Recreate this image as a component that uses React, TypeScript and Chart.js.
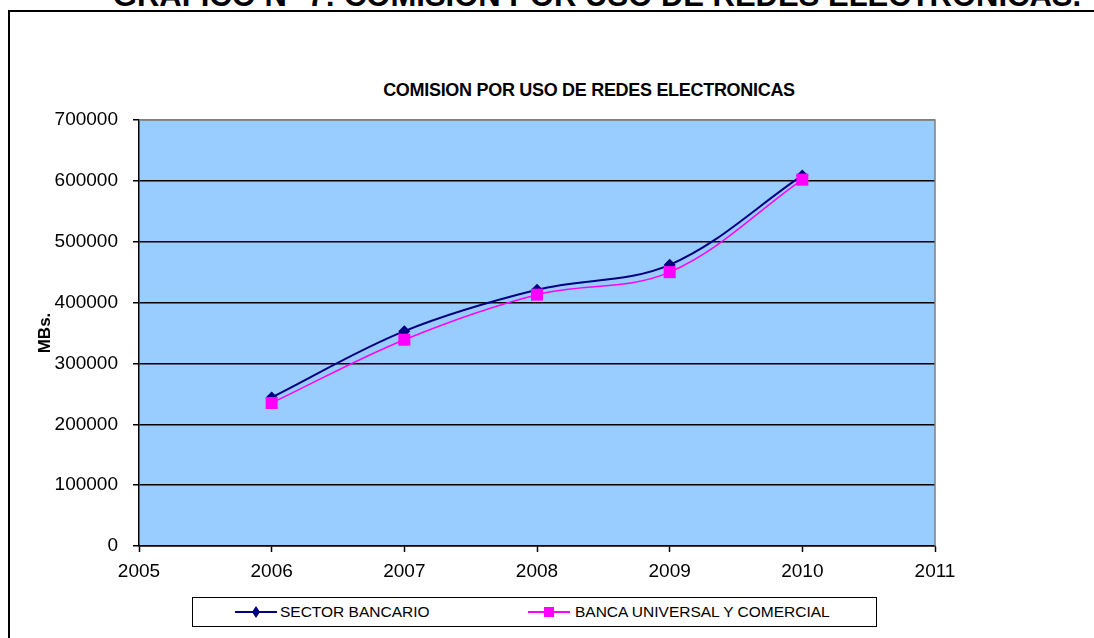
import React, { useEffect, useRef } from 'react';
import { Chart, registerables } from 'chart.js';

Chart.register(...registerables);

const years = [2006, 2007, 2008, 2009, 2010];
const sectorBancario = [244000, 353000, 421000, 462000, 609000];
const bancaUniversal = [235000, 339000, 413000, 450000, 602000];
const seriesNames = ['SECTOR BANCARIO', 'BANCA UNIVERSAL Y COMERCIAL'];
const xMin = 2005;
const xMax = 2011;
const yMin = 0;
const yMax = 700000;
const yStep = 100000;
const pageTitle = 'GRAFICO N° 7: COMISION POR USO DE REDES ELECTRONICAS.';
const chartTitle = 'COMISION POR USO DE REDES ELECTRONICAS';
const yAxisTitle = 'MBs.';

const NAVY = '#000080';
const MAGENTA = '#FF00FF';
const FONT = "'Liberation Sans', Arial, sans-serif";

const plotBg = {
  id: 'plotBg',
  beforeDraw(chart: any) {
    const { ctx, chartArea: a } = chart;
    ctx.save();
    ctx.fillStyle = '#99CCFF';
    ctx.fillRect(a.left, a.top, a.right - a.left, a.bottom - a.top);
    ctx.restore();
  },
  beforeDatasetsDraw(chart: any) {
    const { ctx, chartArea: a } = chart;
    ctx.save();
    ctx.strokeStyle = '#808080';
    ctx.lineWidth = 1.5;
    ctx.beginPath();
    ctx.moveTo(a.left, a.top);
    ctx.lineTo(a.right, a.top);
    ctx.lineTo(a.right, a.bottom);
    ctx.stroke();
    ctx.restore();
  },
};

function LegendIcon({ color, shape }: { color: string; shape: 'diamond' | 'square' }) {
  return (
    <svg width="42" height="14" style={{ display: 'block' }}>
      <line x1="0" y1="7" x2="42" y2="7" stroke={color} strokeWidth="2" />
      {shape === 'diamond' ? (
        <polygon points="21,1 25,7 21,13 17,7" fill={color} />
      ) : (
        <rect x="16" y="2" width="10" height="10" fill={color} />
      )}
    </svg>
  );
}

export default function App() {
  const canvasRef = useRef<HTMLCanvasElement | null>(null);

  useEffect(() => {
    if (!canvasRef.current) return;
    const tickFont = { family: FONT, size: 19 };
    const chart = new Chart(canvasRef.current, {
      type: 'line',
      data: {
        datasets: [
          {
            label: seriesNames[0],
            data: years.map((x, i) => ({ x, y: sectorBancario[i] })),
            borderColor: NAVY,
            backgroundColor: NAVY,
            borderWidth: 2,
            pointStyle: 'rectRot',
            pointRadius: 6,
            pointBorderWidth: 0,
            tension: 0.35,
            fill: false,
            order: 1,
          },
          {
            label: seriesNames[1],
            data: years.map((x, i) => ({ x, y: bancaUniversal[i] })),
            borderColor: MAGENTA,
            backgroundColor: MAGENTA,
            borderWidth: 1.5,
            pointStyle: 'rect',
            pointRadius: 8.5,
            pointBorderWidth: 0,
            tension: 0.35,
            fill: false,
            order: 0,
          },
        ],
      },
      options: {
        responsive: false,
        animation: false,
        devicePixelRatio: 1,
        layout: { padding: { left: 0, top: 82, right: 77, bottom: 0 } },
        plugins: {
          legend: { display: false },
          title: { display: false },
          tooltip: { enabled: false },
        },
        scales: {
          x: {
            type: 'linear',
            min: xMin,
            max: xMax,
            ticks: {
              stepSize: 1,
              callback: (v: any) => String(v),
              color: '#000',
              font: tickFont,
              padding: 8,
              maxRotation: 0,
            },
            grid: {
              drawOnChartArea: false,
              drawTicks: true,
              tickLength: 6,
              tickColor: '#000',
              tickWidth: 1.5,
            },
            border: { color: '#000', width: 1.5 },
            afterFit: (s: any) => {
              s.height = 52;
            },
          },
          y: {
            type: 'linear',
            min: yMin,
            max: yMax,
            ticks: {
              stepSize: yStep,
              callback: (v: any) => String(v),
              color: '#000',
              font: tickFont,
              padding: 15,
            },
            grid: {
              color: (c: any) => (c.tick && c.tick.value === yMax ? '#808080' : '#000'),
              lineWidth: 1.5,
              tickLength: 6,
              tickColor: '#000',
              tickWidth: 1.5,
            },
            border: { color: '#000', width: 1.5 },
            title: {
              display: true,
              text: yAxisTitle,
              color: '#000',
              font: { family: FONT, size: 17, weight: 'bold' },
              padding: { top: 23, bottom: 0 },
            },
            afterFit: (s: any) => {
              s.width = 127;
            },
          },
        },
      } as any,
      plugins: [plotBg],
    });
    return () => chart.destroy();
  }, []);

  return (
    <div
      style={{
        position: 'fixed',
        left: 0,
        top: 0,
        width: 1094,
        height: 638,
        overflow: 'hidden',
        background: '#fff',
        fontFamily: FONT,
        color: '#000',
      }}
    >
      <div
        style={{
          position: 'absolute',
          top: -20,
          left: 597,
          transform: 'translateX(-50%)',
          whiteSpace: 'nowrap',
          fontSize: 31,
          fontWeight: 'bold',
          lineHeight: 1,
        }}
      >
        {pageTitle}
      </div>
      <div
        style={{
          position: 'absolute',
          left: 8,
          top: 10,
          width: 1200,
          height: 700,
          border: '2px solid #000',
          boxSizing: 'border-box',
        }}
      />
      <div
        style={{
          position: 'absolute',
          top: 81,
          left: 589,
          transform: 'translateX(-50%)',
          whiteSpace: 'nowrap',
          fontSize: 18,
          fontWeight: 'bold',
          letterSpacing: -0.3,
          lineHeight: 1,
        }}
      >
        {chartTitle}
      </div>
      <canvas
        ref={canvasRef}
        width={1000}
        height={560}
        style={{ position: 'absolute', left: 12, top: 38, width: 1000, height: 560 }}
      />
      <div
        style={{
          position: 'absolute',
          left: 192,
          top: 597,
          width: 685,
          height: 30,
          border: '1px solid #000',
          background: '#fff',
          boxSizing: 'border-box',
          fontSize: 15.5,
          whiteSpace: 'nowrap',
        }}
      >
        <div style={{ position: 'absolute', left: 42, top: 7 }}>
          <LegendIcon color={NAVY} shape="diamond" />
        </div>
        <div style={{ position: 'absolute', left: 87, top: 5 }}>{seriesNames[0]}</div>
        <div style={{ position: 'absolute', left: 335, top: 7 }}>
          <LegendIcon color={MAGENTA} shape="square" />
        </div>
        <div style={{ position: 'absolute', left: 382, top: 5 }}>{seriesNames[1]}</div>
      </div>
    </div>
  );
}
